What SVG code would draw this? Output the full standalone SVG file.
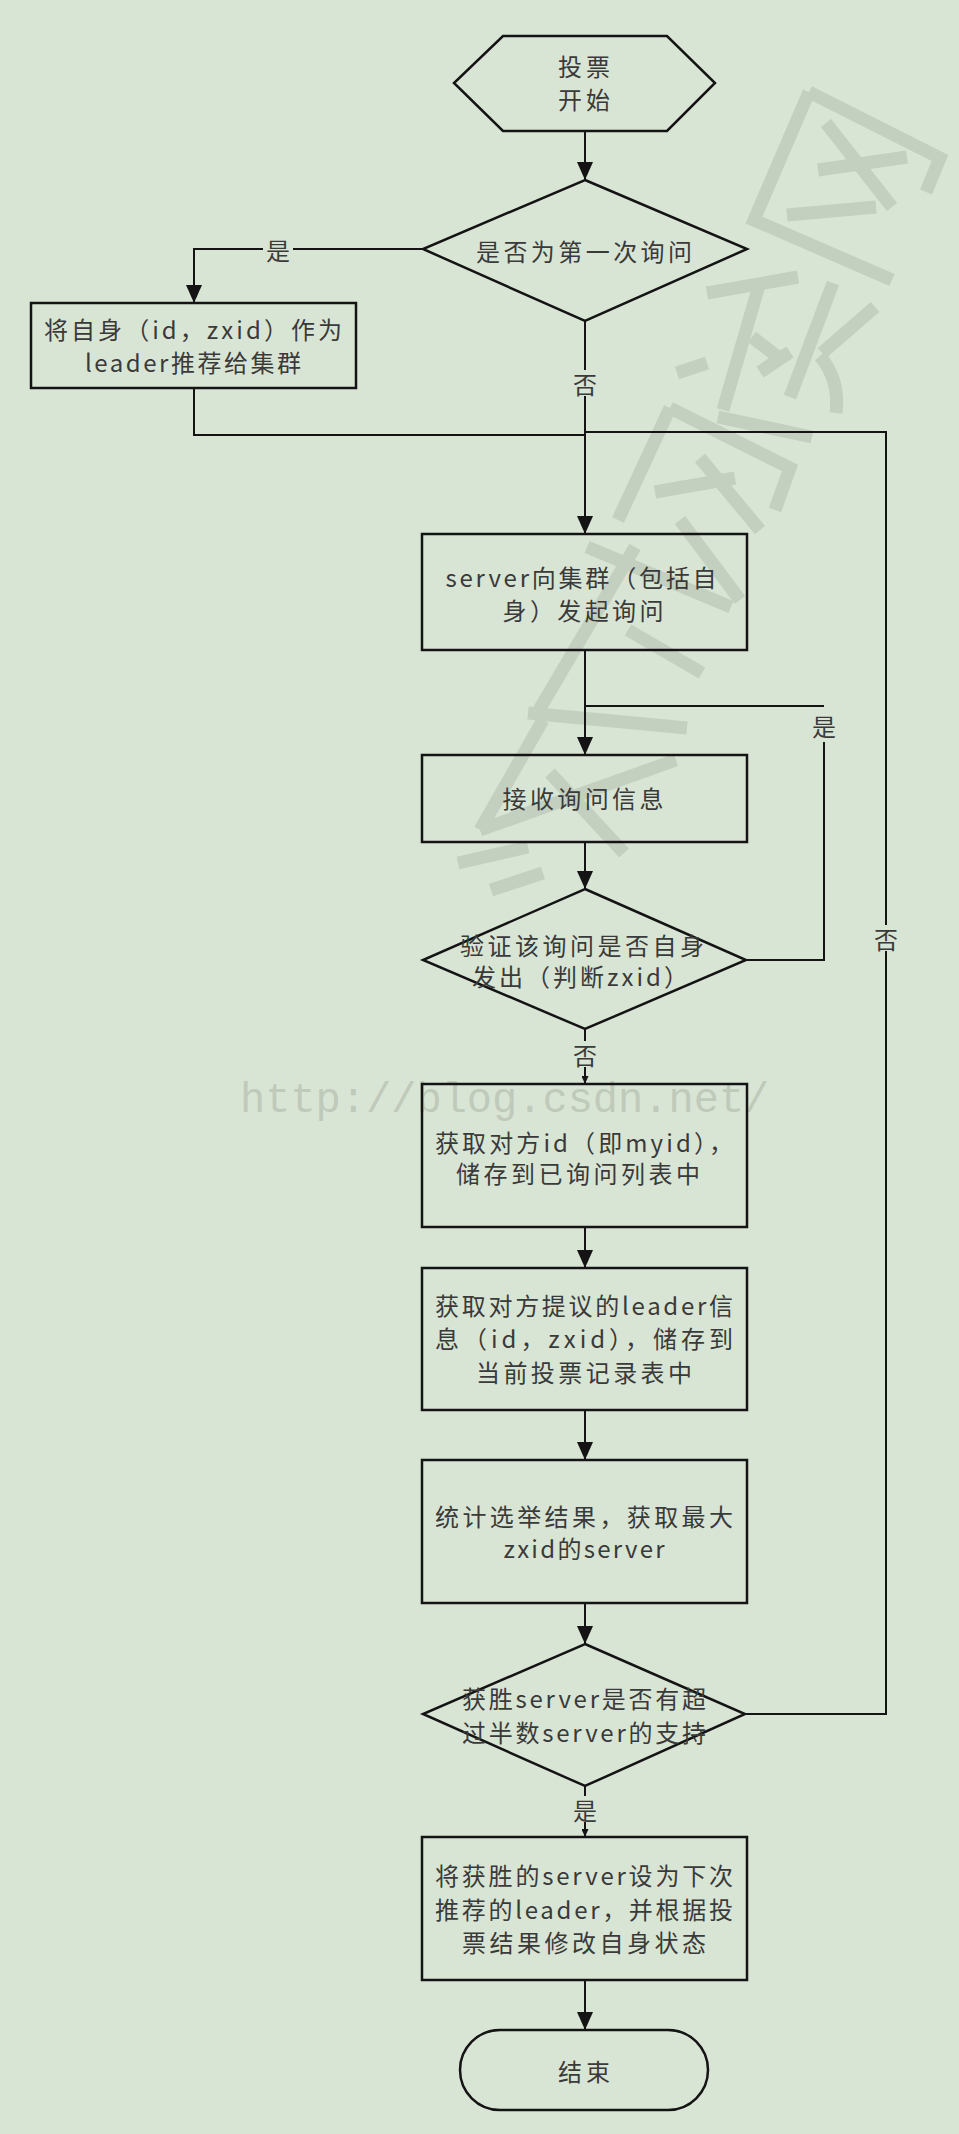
<svg xmlns="http://www.w3.org/2000/svg" width="959" height="2134" viewBox="0 0 959 2134">
<defs>
<style>
.bg{fill:#d9e5d4}
.wm{fill:none;stroke:#c3cfbf;stroke-width:13;stroke-linecap:butt;stroke-linejoin:miter}
.wmt{font-family:"Liberation Mono",monospace;font-size:42px;fill:#bfcabb}
.n{fill:none;stroke:#141414;stroke-width:2.5}
.c{fill:none;stroke:#141414;stroke-width:2}
.t{font-family:"Noto Sans CJK SC","Noto Sans",sans-serif;font-size:24px;fill:#3a3a3a;text-anchor:middle;dominant-baseline:central}
</style>
<marker id="arr" viewBox="0 0 18 16" refX="18" refY="8" markerWidth="18" markerHeight="16" markerUnits="userSpaceOnUse" orient="auto">
<path d="M0,0 L18,8 L0,16 z" fill="#141414"/>
</marker>
<marker id="arrs" viewBox="0 0 8 7" refX="8" refY="3.5" markerWidth="8" markerHeight="7" markerUnits="userSpaceOnUse" orient="auto">
<path d="M0,0 L8,3.5 L0,7 z" fill="#141414"/>
</marker>
</defs>
<rect class="bg" x="0" y="0" width="959" height="2134"/>

<g id="watermark">
<path class="wm" d="M809,92 L940,158 L926,192"/>
<path class="wm" d="M809,92 L754,220 L892,280"/>
<path class="wm" d="M826,123 L892,207"/>
<path class="wm" d="M818,170 L907,157"/>
<path class="wm" d="M787,215 L876,207"/>
<path class="wm" d="M707,293 L798,277"/>
<path class="wm" d="M760,282 L723,410"/>
<path class="wm" d="M833,283 L790,397"/>
<path class="wm" d="M875,307 L822,353"/>
<path class="wm" d="M820,356 Q840,380 836,413"/>
<path class="wm" d="M752,337 L778,357"/>
<path class="wm" d="M760,372 L790,352"/>
<path class="wm" d="M677,373 L707,363"/>
<path class="wm" d="M718,417 L812,437"/>
<path class="wm" d="M670,408 L790,468 L775,510"/>
<path class="wm" d="M670,408 L618,520"/>
<path class="wm" d="M700,458 L760,530"/>
<path class="wm" d="M655,492 L735,478"/>
<path class="wm" d="M680,520 L740,600"/>
<path class="wm" d="M539,710 L635,547"/>
<path class="wm" d="M587,547 L731,607"/>
<path class="wm" d="M628,630 L702,673"/>
<path class="wm" d="M528,713 L687,728"/>
<path class="wm" d="M480,830 L543,720"/>
<path class="wm" d="M480,830 L676,760"/>
<path class="wm" d="M550,773 L624,853"/>
<path class="wm" d="M458,863 L528,847"/>
<path class="wm" d="M491,890 L543,873"/>
<text class="wmt" x="240" y="1112">http://blog.csdn.net/</text>
</g>

<g id="connectors">
<path class="c" d="M585,131 V180" marker-end="url(#arr)"/>
<path class="c" d="M423,249 H293"/>
<path class="c" d="M263,249 H194 V303" marker-end="url(#arr)"/>
<text class="t" x="278" y="249">是</text>
<path class="c" d="M585,321 V370"/>
<path class="c" d="M585,396 V534" marker-end="url(#arr)"/>
<text class="t" x="585" y="383">否</text>
<path class="c" d="M194,388 V435 H585"/>
<path class="c" d="M745,1714 H886 V951"/>
<path class="c" d="M886,925 V432 H585"/>
<text class="t" x="886" y="938">否</text>
<path class="c" d="M585,650 V755" marker-end="url(#arr)"/>
<path class="c" d="M745,960 H824 V742"/>
<path class="c" d="M824,706 H585"/>
<text class="t" x="824" y="725">是</text>
<path class="c" d="M585,842 V889" marker-end="url(#arr)"/>
<path class="c" d="M585,1029 V1041"/>
<path class="c" d="M585,1067 V1084" marker-end="url(#arrs)"/>
<text class="t" x="585" y="1054">否</text>
<path class="c" d="M585,1227 V1268" marker-end="url(#arr)"/>
<path class="c" d="M585,1410 V1460" marker-end="url(#arr)"/>
<path class="c" d="M585,1603 V1644" marker-end="url(#arr)"/>
<path class="c" d="M585,1786 V1796"/>
<path class="c" d="M585,1822 V1837" marker-end="url(#arrs)"/>
<text class="t" x="585" y="1809">是</text>
<path class="c" d="M585,1980 V2030" marker-end="url(#arr)"/>
</g>

<g id="n_start">
<polygon class="n" points="503,36 667,36 715,83 667,131 503,131 454,83"/>
<text class="t" x="584" y="65" textLength="52" lengthAdjust="spacing">投票</text>
<text class="t" x="584" y="98" textLength="52" lengthAdjust="spacing">开始</text>
</g>

<g id="n_first">
<polygon class="n" points="585,180 747,249 585,321 423,249"/>
<text class="t" x="584" y="250" textLength="216" lengthAdjust="spacing">是否为第一次询问</text>
</g>

<g id="n_self">
<rect class="n" x="31" y="303" width="325" height="85"/>
<text class="t" x="193" y="328" textLength="298" lengthAdjust="spacing">将自身（id，zxid）作为</text>
<text class="t" x="193" y="361" textLength="216" lengthAdjust="spacing">leader推荐给集群</text>
</g>

<g id="n_ask">
<rect class="n" x="422" y="534" width="325" height="116"/>
<text class="t" x="581" y="576" textLength="271" lengthAdjust="spacing">server向集群（包括自</text>
<text class="t" x="583" y="609" textLength="161" lengthAdjust="spacing">身）发起询问</text>
</g>

<g id="n_recv">
<rect class="n" x="422" y="755" width="325" height="87"/>
<text class="t" x="583" y="797" textLength="161" lengthAdjust="spacing">接收询问信息</text>
</g>

<g id="n_check">
<polygon class="n" points="585,889 746,960 585,1029 423,960"/>
<text class="t" x="582" y="944" textLength="244" lengthAdjust="spacing">验证该询问是否自身</text>
<text class="t" x="580" y="975" textLength="216" lengthAdjust="spacing">发出（判断zxid）</text>
</g>

<g id="n_getid">
<rect class="n" x="422" y="1084" width="325" height="143"/>
<text class="t" x="584" y="1141" textLength="298" lengthAdjust="spacing">获取对方id（即myid），</text>
<text class="t" x="578" y="1172" textLength="244" lengthAdjust="spacing">储存到已询问列表中</text>
</g>

<g id="n_getleader">
<rect class="n" x="422" y="1268" width="325" height="142"/>
<text class="t" x="584" y="1304" textLength="298" lengthAdjust="spacing">获取对方提议的leader信</text>
<text class="t" x="584" y="1337" textLength="298" lengthAdjust="spacing">息（id，zxid），储存到</text>
<text class="t" x="584" y="1371" textLength="216" lengthAdjust="spacing">当前投票记录表中</text>
</g>

<g id="n_count">
<rect class="n" x="422" y="1460" width="325" height="143"/>
<text class="t" x="584" y="1515" textLength="298" lengthAdjust="spacing">统计选举结果，获取最大</text>
<text class="t" x="584" y="1547" textLength="161" lengthAdjust="spacing">zxid的server</text>
</g>

<g id="n_majority">
<polygon class="n" points="585,1644 745,1714 585,1786 423,1714"/>
<text class="t" x="584" y="1697" textLength="244" lengthAdjust="spacing">获胜server是否有超</text>
<text class="t" x="584" y="1731" textLength="244" lengthAdjust="spacing">过半数server的支持</text>
</g>

<g id="n_set">
<rect class="n" x="422" y="1837" width="325" height="143"/>
<text class="t" x="584" y="1874" textLength="298" lengthAdjust="spacing">将获胜的server设为下次</text>
<text class="t" x="584" y="1908" textLength="298" lengthAdjust="spacing">推荐的leader，并根据投</text>
<text class="t" x="584" y="1941" textLength="244" lengthAdjust="spacing">票结果修改自身状态</text>
</g>

<g id="n_end">
<rect class="n" x="460" y="2030" width="248" height="80" rx="40" ry="40"/>
<text class="t" x="584" y="2070" textLength="52" lengthAdjust="spacing">结束</text>
</g>
</svg>
